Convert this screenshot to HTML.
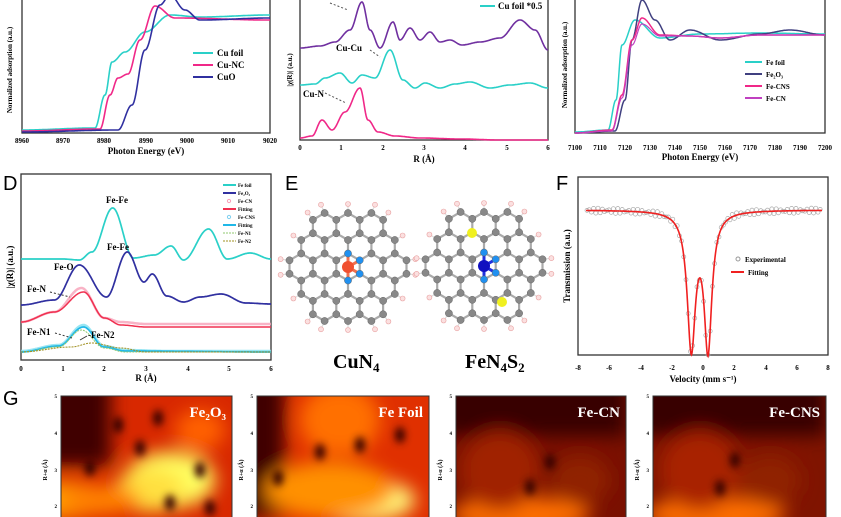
<!DOCTYPE html>
<html><head><meta charset="utf-8"><style>
body{margin:0;background:#fff;width:841px;height:517px;overflow:hidden;font-family:"Liberation Serif",serif}
svg{display:block}
text{font-family:"Liberation Serif",serif;font-weight:bold}
.t{font-size:9px}
.s{font-size:7px}
.L{font-family:"Liberation Sans",sans-serif;font-weight:normal;font-size:20px}
</style></head><body>
<svg id="s" width="841" height="517" viewBox="0 0 841 517">
<defs>
<filter id="bl" x="-50%" y="-50%" width="200%" height="200%"><feGaussianBlur stdDeviation="9"/></filter>
<filter id="bl2" x="-50%" y="-50%" width="200%" height="200%"><feGaussianBlur stdDeviation="4"/></filter>
<clipPath id="c1"><rect x="61" y="396" width="171" height="121"/></clipPath>
<clipPath id="c2"><rect x="257" y="396" width="172" height="121"/></clipPath>
<clipPath id="c3"><rect x="456" y="396" width="170" height="121"/></clipPath>
<clipPath id="c4"><rect x="653" y="396" width="173" height="121"/></clipPath>
</defs>
<!-- Panel A -->
<rect x="22" y="-2" width="248" height="135" fill="none" stroke="#333" stroke-width="1.3"/>
<g text-anchor="middle">
<text x="22" y="143" class="s">8960</text><text x="63" y="143" class="s">8970</text><text x="104" y="143" class="s">8980</text><text x="146" y="143" class="s">8990</text><text x="187" y="143" class="s">9000</text><text x="228" y="143" class="s">9010</text><text x="270" y="143" class="s">9020</text>
<text x="146" y="154" class="t">Photon Energy (eV)</text></g>
<text class="s" transform="translate(12,70) rotate(-90)" text-anchor="middle">Normalized adsorption (a.u.)</text>
<path id="aC" fill="none" stroke="#2ad0c8" stroke-width="1.6"/>
<path id="aP" fill="none" stroke="#f02888" stroke-width="1.6"/>
<path id="aN" fill="none" stroke="#3030a0" stroke-width="1.6"/>
<line x1="193" y1="53" x2="213" y2="53" stroke="#2ad0c8" stroke-width="2"/><text x="217" y="56" class="t">Cu foil</text>
<line x1="193" y1="65" x2="213" y2="65" stroke="#f02888" stroke-width="2"/><text x="217" y="68" class="t">Cu-NC</text>
<line x1="193" y1="77" x2="213" y2="77" stroke="#3030a0" stroke-width="2"/><text x="217" y="80" class="t">CuO</text>
<!-- Panel B -->
<rect x="300" y="-2" width="248" height="142" fill="none" stroke="#333" stroke-width="1.3"/>
<g text-anchor="middle" class="s"><text x="300" y="150">0</text><text x="341" y="150">1</text><text x="383" y="150">2</text><text x="424" y="150">3</text><text x="465" y="150">4</text><text x="507" y="150">5</text><text x="548" y="150">6</text></g>
<text x="424" y="162" class="t" text-anchor="middle">R (Å)</text>
<text class="s" transform="translate(292,70) rotate(-90)" text-anchor="middle">|χ(R)| (a.u.)</text>
<path id="bP" fill="none" stroke="#7030a0" stroke-width="1.6"/>
<path id="bC" fill="none" stroke="#2ad0c8" stroke-width="1.6"/>
<path id="bR" fill="none" stroke="#f02888" stroke-width="1.6"/>
<line x1="480" y1="6" x2="495" y2="6" stroke="#2ad0c8" stroke-width="2"/><text x="498" y="9" class="t">Cu foil *0.5</text>
<text x="336" y="51" class="t">Cu-Cu</text><text x="303" y="97" class="t">Cu-N</text>
<line x1="370" y1="50" x2="380" y2="57" stroke="#555" stroke-dasharray="2 2"/><line x1="325" y1="93" x2="346" y2="103" stroke="#555" stroke-dasharray="2 2"/><line x1="330" y1="3" x2="348" y2="10" stroke="#555" stroke-dasharray="2 2"/>
<!-- Panel C -->
<rect x="575" y="-2" width="250" height="135" fill="none" stroke="#333" stroke-width="1.3"/>
<g text-anchor="middle" class="s"><text x="575" y="150">7100</text><text x="600" y="150">7110</text><text x="625" y="150">7120</text><text x="650" y="150">7130</text><text x="675" y="150">7140</text><text x="700" y="150">7150</text><text x="725" y="150">7160</text><text x="750" y="150">7170</text><text x="775" y="150">7180</text><text x="800" y="150">7190</text><text x="825" y="150">7200</text></g>
<text x="700" y="160" class="t" text-anchor="middle">Photon Energy (eV)</text>
<text class="s" transform="translate(567,65) rotate(-90)" text-anchor="middle">Normalized adsorption (a.u.)</text>
<path id="cC" fill="none" stroke="#2ad0c8" stroke-width="1.5"/>
<path id="cN" fill="none" stroke="#404080" stroke-width="1.5"/>
<path id="cP" fill="none" stroke="#f02888" stroke-width="1.5"/>
<path id="cM" fill="none" stroke="#c040c0" stroke-width="1.2"/>
<g class="s"><line x1="745" y1="62" x2="762" y2="62" stroke="#2ad0c8" stroke-width="2"/><text x="766" y="65">Fe foil</text>
<line x1="745" y1="74" x2="762" y2="74" stroke="#404080" stroke-width="2"/><text x="766" y="77">Fe₂O₃</text>
<line x1="745" y1="86" x2="762" y2="86" stroke="#f02888" stroke-width="2"/><text x="766" y="89">Fe-CNS</text>
<line x1="745" y1="98" x2="762" y2="98" stroke="#c040c0" stroke-width="2"/><text x="766" y="101">Fe-CN</text></g>
<!-- Panel D -->
<text x="3" y="190" class="L">D</text>
<rect x="21" y="174" width="250" height="186" fill="none" stroke="#333" stroke-width="1.3"/>
<g text-anchor="middle" class="s"><text x="21" y="371">0</text><text x="63" y="371">1</text><text x="104" y="371">2</text><text x="146" y="371">3</text><text x="188" y="371">4</text><text x="229" y="371">5</text><text x="271" y="371">6</text></g>
<text x="146" y="381" class="t" text-anchor="middle">R (Å)</text>
<text class="t" transform="translate(13,267) rotate(-90)" text-anchor="middle">|χ(R)| (a.u.)</text>
<path id="dC" fill="none" stroke="#2ad0c8" stroke-width="1.7"/>
<path id="dN" fill="none" stroke="#3030a0" stroke-width="1.7"/>
<path id="dPo" fill="none" stroke="#f8a0b8" stroke-width="2.5" opacity=".8"/>
<path id="dP" fill="none" stroke="#f03050" stroke-width="1.5"/>
<path id="dBo" fill="none" stroke="#80e0f0" stroke-width="2.5" opacity=".8"/>
<path id="dB" fill="none" stroke="#20b8e8" stroke-width="1.7"/>
<path id="dG1" fill="none" stroke="#90c870" stroke-width="1" stroke-dasharray="2 1"/>
<path id="dG2" fill="none" stroke="#a09020" stroke-width="1" stroke-dasharray="2 1"/>
<g style="font-size:5px"><line x1="223" y1="185" x2="236" y2="185" stroke="#2ad0c8" stroke-width="2"/><text x="238" y="187">Fe foil</text>
<line x1="223" y1="193" x2="236" y2="193" stroke="#3030a0" stroke-width="2"/><text x="238" y="195">Fe₂O₃</text>
<circle cx="229" cy="201" r="1.6" fill="none" stroke="#f8a0b8"/><text x="238" y="203">Fe-CN</text>
<line x1="223" y1="209" x2="236" y2="209" stroke="#f03050" stroke-width="2"/><text x="238" y="211">Fitting</text>
<circle cx="229" cy="217" r="1.6" fill="none" stroke="#80d0f0"/><text x="238" y="219">Fe-CNS</text>
<line x1="223" y1="225" x2="236" y2="225" stroke="#20b8e8" stroke-width="2"/><text x="238" y="227">Fitting</text>
<line x1="223" y1="233" x2="236" y2="233" stroke="#90c870" stroke-dasharray="2 1"/><text x="238" y="235">Fe-N1</text>
<line x1="223" y1="241" x2="236" y2="241" stroke="#a09020" stroke-dasharray="2 1"/><text x="238" y="243">Fe-N2</text></g>
<g class="t"><text x="106" y="203">Fe-Fe</text><text x="107" y="250">Fe-Fe</text><text x="54" y="270">Fe-O</text><text x="27" y="292">Fe-N</text><text x="27" y="335">Fe-N1</text><text x="88" y="338">-Fe-N2</text></g>
<line x1="50" y1="292" x2="70" y2="297" stroke="#333" stroke-dasharray="2 2"/><line x1="55" y1="333" x2="72" y2="338" stroke="#333" stroke-dasharray="2 2"/><line x1="87" y1="336" x2="80" y2="340" stroke="#333"/>
<!-- Panel E -->
<text x="285" y="190" class="L">E</text>
<g id="mol"></g>
<text x="333" y="368" style="font-size:20px">CuN<tspan style="font-size:13px" dy="4">4</tspan></text>
<text x="465" y="368" style="font-size:20px">FeN<tspan style="font-size:13px" dy="4">4</tspan><tspan dy="-4">S</tspan><tspan style="font-size:13px" dy="4">2</tspan></text>
<!-- Panel F -->
<text x="556" y="190" class="L">F</text>
<rect x="578" y="177" width="250" height="178" fill="none" stroke="#333" stroke-width="1.3"/>
<g text-anchor="middle" class="s"><text x="578" y="370">-8</text><text x="609" y="370">-6</text><text x="641" y="370">-4</text><text x="672" y="370">-2</text><text x="703" y="370">0</text><text x="734" y="370">2</text><text x="766" y="370">4</text><text x="797" y="370">6</text><text x="828" y="370">8</text></g>
<text x="703" y="382" class="t" text-anchor="middle">Velocity (mm s⁻¹)</text>
<text class="t" transform="translate(570,266) rotate(-90)" text-anchor="middle">Transmission (a.u.)</text>
<g id="fo" fill="none" stroke="#aaa" stroke-width=".7"></g>
<path id="fR" fill="none" stroke="#f02020" stroke-width="1.6"/>
<circle cx="738" cy="259" r="2" fill="none" stroke="#999"/><text x="745" y="262" class="s">Experimental</text>
<line x1="731" y1="272" x2="744" y2="272" stroke="#f02020" stroke-width="2"/><text x="748" y="275" class="s">Fitting</text>
<!-- Panel G -->
<text x="3" y="405" class="L">G</text>
<g id="G"></g>
</svg>
<script>
function P(id,pts){document.getElementById(id).setAttribute('d','M'+pts.map(p=>p[0].toFixed(1)+','+p[1].toFixed(1)).join('L'));}
function interp(xs,ys,x){for(let i=0;i<xs.length-1;i++){if(x<=xs[i+1]){let t=(x-xs[i])/(xs[i+1]-xs[i]);t=(1-Math.cos(Math.PI*t))/2;return ys[i]+(ys[i+1]-ys[i])*t;}}return ys[ys.length-1];}
function curve(id,x0,x1,xs,ys){let pts=[];for(let x=x0;x<=x1;x+=0.5){pts.push([x,interp(xs,ys,x)]);}P(id,pts);}
curve('aC',22,270,[22,95,105,112,125,145,170,200,270],[130,128,95,62,52,32,15,17,15]);
curve('aP',22,270,[22,100,110,118,128,140,155,175,270],[131,129,95,78,74,40,6,18,20]);
curve('aN',22,270,[22,118,132,145,160,170,185,200,270],[132,130,105,50,5,-5,10,20,18]);
curve('bP',300,548,[300,320,335,350,362,370,380,393,400,410,420,430,440,450,462,480,500,520,535,548],[48,46,42,30,2,30,48,22,40,28,40,32,42,40,45,42,38,20,30,50]);
curve('bC',300,548,[300,315,325,340,352,362,375,390,403,415,425,440,455,470,490,510,530,548],[85,84,78,73,83,75,78,50,80,88,83,88,84,82,88,85,83,88]);
curve('bR',300,548,[300,312,322,332,345,360,368,378,395,420,460,500,548],[138,136,120,130,112,88,120,132,136,138,139,140,140]);
curve('cC',575,825,[575,608,616,622,635,660,700,760,825],[132,130,100,45,20,38,34,33,34]);
curve('cN',575,825,[575,615,625,632,642,655,670,690,720,760,790,825],[133,131,100,40,0,20,40,30,40,34,30,35]);
curve('cP',575,825,[575,612,622,632,642,660,690,720,760,825],[133,130,95,40,18,35,36,38,35,35]);
curve('cM',575,825,[575,612,622,632,642,660,690,720,760,825],[133,131,98,45,24,36,36,38,35,35]);
const R=r=>21+41.67*r;
curve('dC',21,271,[R(0),R(1),R(1.4),R(1.7),R(2.2),R(2.7),R(3.2),R(3.6),R(3.9),R(4.5),R(4.95),R(5.5),R(6)],[259,259,260,252,208,258,255,246,260,229,259,253,259]);
curve('dN',21,271,[R(0),R(0.8),R(1.4),R(2.05),R(2.55),R(2.95),R(3.15),R(3.5),R(3.9),R(4.3),R(4.8),R(5.4),R(6)],[305,300,265,297,252,282,274,296,302,297,294,303,304]);
curve('dPo',21,271,[R(0),R(0.8),R(1.45),R(2),R(2.4),R(3),R(6)],[322,312,288,318,322,324,324]);
curve('dP',21,271,[R(0),R(0.8),R(1.5),R(2),R(2.4),R(3),R(6)],[322,312,292,318,325,327,327]);
curve('dBo',21,271,[R(0),R(0.9),R(1.5),R(2),R(2.5),R(3.5),R(6)],[351,345,325,346,350,351,351]);
curve('dB',21,271,[R(0),R(0.9),R(1.5),R(2),R(2.5),R(6)],[352,346,327,347,351,352]);
curve('dG1',21,271,[R(0),R(0.9),R(1.45),R(2),R(2.5),R(6)],[352,347,330,348,352,352]);
curve('dG2',21,271,[R(0),R(1.2),R(1.7),R(2.4),R(3),R(6)],[352,347,343,348,352,352]);
function mos(v){let l=(c,w,a)=>a/(1+((v-c)/w)**2);return 210+l(-0.75,0.32,135)+l(0.32,0.3,135);}
let fp=[];for(let x=586;x<=822;x+=0.5){fp.push([x,mos((x-703)/15.6)]);}P('fR',fp);
let h='';for(let x=587;x<=822;x+=2.2){let y=mos((x-703)/15.6)+(Math.sin(x*7.3)*2.5);h+=`<circle cx="${x.toFixed(1)}" cy="${y.toFixed(1)}" r="2"/>`;}document.getElementById('fo').innerHTML=h;
function mol(cx,cy,metal,S2){let a=13.5,out='';const s3=Math.sqrt(3);
 let pts=[];for(let i=-9;i<=9;i++)for(let j=-9;j<=9;j++){let x=a*s3*(i+j/2),y=a*1.5*j;for(let k=0;k<2;k++){let px=cx+x+a*s3/2,py=cy+y+(k?a/2:-a/2);let d=Math.hypot(px-cx,py-cy);if(d<64 && d>10)pts.push([px,py,0]);}}
 pts.sort((p,q)=>Math.hypot(p[0]-cx,p[1]-cy)-Math.hypot(q[0]-cx,q[1]-cy));
 let Ns=pts.slice(0,4);Ns.forEach(p=>p[2]=1);
 for(let i=0;i<pts.length;i++)for(let j=i+1;j<pts.length;j++){if(Math.abs(Math.hypot(pts[i][0]-pts[j][0],pts[i][1]-pts[j][1])-a)<1)out+=`<line x1="${pts[i][0].toFixed(1)}" y1="${pts[i][1].toFixed(1)}" x2="${pts[j][0].toFixed(1)}" y2="${pts[j][1].toFixed(1)}" stroke="#aaa" stroke-width="2.2"/>`;}
 pts.forEach(p=>{let n=pts.filter(q=>Math.abs(Math.hypot(p[0]-q[0],p[1]-q[1])-a)<1).length;let d=Math.hypot(p[0]-cx,p[1]-cy);if(n==2&&d>40){let dx=p[0]-cx,dy=p[1]-cy;let hx=p[0]+dx/d*9,hy=p[1]+dy/d*9;out+=`<line x1="${p[0].toFixed(1)}" y1="${p[1].toFixed(1)}" x2="${hx.toFixed(1)}" y2="${hy.toFixed(1)}" stroke="#ddd" stroke-width="1.2"/><circle cx="${hx.toFixed(1)}" cy="${hy.toFixed(1)}" r="2.5" fill="#fbe0e0" stroke="#e8a0a0" stroke-width=".6"/>`;}});
 Ns.forEach(p=>out+=`<line x1="${cx}" y1="${cy}" x2="${p[0].toFixed(1)}" y2="${p[1].toFixed(1)}" stroke="${S2?'#2030e0':'#f07050'}" stroke-width="3"/>`);
 pts.forEach(p=>{out+=`<circle cx="${p[0].toFixed(1)}" cy="${p[1].toFixed(1)}" r="3.6" fill="${p[2]?'#2090f0':'#888'}" stroke="#666" stroke-width=".5"/>`;});
 if(S2){out+=`<circle cx="${cx-12}" cy="${cy-33}" r="5" fill="#f0f020"/><circle cx="${cx+18}" cy="${cy+36}" r="5" fill="#f0f020"/>`;}
 out+=`<circle cx="${cx}" cy="${cy}" r="6" fill="${metal}"/>`;return out;}
document.getElementById('mol').innerHTML=mol(348,267,'#f05030',0)+mol(484,266,'#1010c0',1);
const G=[[61,232,'Fe₂O₃','#d82800',[[61,396,50,70,'#400000'],[60,500,60,18,'#ffa000'],[170,480,45,28,'#ffff60'],[150,490,35,22,'#ffe040'],[100,500,40,15,'#ff8000'],[200,430,25,20,'#ff6000']],[[118,425],[158,418],[140,448],[90,468],[200,470],[170,503],[210,508]]],
[257,429,'Fe Foil','#e03000',[[257,396,28,121,'#400000'],[340,420,40,35,'#ff7000'],[360,500,55,22,'#ffff80'],[330,490,65,28,'#ff9000']],[[320,452],[360,445],[400,435],[278,478]]],
[456,626,'Fe-CN','#7a1000',[[456,396,170,40,'#380000'],[520,515,70,18,'#ff7000'],[500,470,40,40,'#a02000'],[580,480,30,25,'#902000']],[[550,462],[530,487]]],
[653,826,'Fe-CNS','#801400',[[653,396,173,40,'#380000'],[715,515,70,18,'#ff7000'],[700,470,40,40,'#a82000'],[770,480,30,25,'#902000']],[[735,460],[720,488]]]];
let g='';G.forEach((p,i)=>{g+=`<g clip-path="url(#c${i+1})"><rect x="${p[0]}" y="396" width="${p[1]-p[0]}" height="121" fill="${p[3]}"/><g filter="url(#bl)">`;
 p[4].forEach(b=>{ if(b[0]==p[0]&&b[1]==396) g+=`<rect x="${b[0]-20}" y="${b[1]-20}" width="${b[2]+20}" height="${b[3]+20}" fill="${b[4]}"/>`; else g+=`<ellipse cx="${b[0]}" cy="${b[1]}" rx="${b[2]}" ry="${b[3]}" fill="${b[4]}"/>`;});
 g+=`</g><g filter="url(#bl2)">`;p[5].forEach(d=>g+=`<ellipse cx="${d[0]}" cy="${d[1]}" rx="5" ry="8" fill="#300000"/>`);
 g+=`</g></g><rect x="${p[0]}" y="396" width="${p[1]-p[0]}" height="125" fill="none" stroke="#333"/>`;
 g+=`<text x="${p[1]-6}" y="417" text-anchor="end" fill="#fff" style="font-size:15px">${p[2]}</text>`;
 g+=`<text transform="translate(${p[0]-14},470) rotate(-90)" text-anchor="middle" style="font-size:6px">R+α (Å)</text>`;
 [[5,398],[4,435],[3,472],[2,508]].forEach(t=>g+=`<text x="${p[0]-4}" y="${t[1]}" style="font-size:5px" text-anchor="end">${t[0]}</text>`);});
document.getElementById('G').innerHTML=g;
</script>
</body></html>
